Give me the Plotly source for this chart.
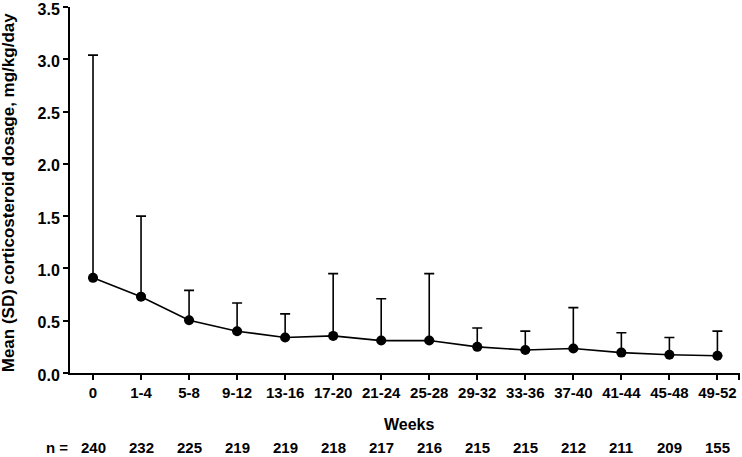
import plotly.graph_objects as go

categories = ["0", "1-4", "5-8", "9-12", "13-16", "17-20", "21-24", "25-28",
              "29-32", "33-36", "37-40", "41-44", "45-48", "49-52"]
mean_dose = [0.91, 0.73, 0.505, 0.40, 0.34, 0.355, 0.31, 0.31,
             0.25, 0.22, 0.235, 0.195, 0.175, 0.165]
sd_dose = [2.13, 0.77, 0.285, 0.27, 0.225, 0.595, 0.40, 0.64,
           0.18, 0.18, 0.39, 0.19, 0.165, 0.235]
n_counts = [240, 232, 225, 219, 219, 218, 217, 216, 215, 215, 212, 211, 209, 155]
y_ticks = [0, 0.5, 1.0, 1.5, 2.0, 2.5, 3.0, 3.5]

xpos = list(range(len(categories)))
FONT = "Liberation Sans, Arial, sans-serif"

fig = go.Figure()
fig.add_trace(go.Scatter(
    x=xpos, y=mean_dose, mode="lines+markers",
    line=dict(color="black", width=1.6),
    marker=dict(color="black", size=10, symbol="circle"),
    error_y=dict(type="data", array=sd_dose, arrayminus=[0] * len(sd_dose),
                 symmetric=False, color="black", thickness=1.6, width=5),
    showlegend=False, cliponaxis=False,
))

annotations = [
    dict(text="<b>Mean (SD) corticosteroid dosage, mg/kg/day</b>", textangle=-90,
         x=-0.0915, y=0.493, xref="paper", yref="paper", xanchor="center", yanchor="middle",
         showarrow=False, font=dict(family=FONT, size=17, color="black")),
    dict(text="<b>Weeks</b>", x=0.507, y=-0.142, xref="paper", yref="paper",
         xanchor="center", yanchor="middle",
         showarrow=False, font=dict(family=FONT, size=16, color="black")),
    dict(text="<b>n =</b>", x=-0.019, y=-0.204, xref="paper", yref="paper",
         xanchor="center", yanchor="middle",
         showarrow=False, font=dict(family=FONT, size=15, color="black")),
]
for xp, n in zip(xpos, n_counts):
    annotations.append(dict(text=f"<b>{n}</b>", x=xp, y=-0.204, xref="x", yref="paper",
                            xanchor="center", yanchor="middle",
                            showarrow=False, font=dict(family=FONT, size=15, color="black")))

fig.update_layout(
    width=742, height=457,
    margin=dict(l=70, r=2, t=7, b=84),
    paper_bgcolor="white", plot_bgcolor="white",
    font=dict(family=FONT, color="black"),
    annotations=annotations,
    xaxis=dict(
        range=[-0.479, 13.47], automargin=False,
        tickvals=xpos + [13.45], ticktext=[f"<b>{c}</b>" for c in categories] + [""],
        ticks="outside", ticklen=5, tickwidth=1.5, tickcolor="black",
        showline=True, linecolor="black", linewidth=2,
        showgrid=False, zeroline=False, ticklabeloverflow="allow",
        tickfont=dict(family=FONT, size=15, color="black"),
    ),
    yaxis=dict(
        range=[0, 3.5], automargin=False,
        tickvals=y_ticks, ticktext=["<b>%.1f</b>" % v for v in y_ticks],
        ticks="outside", ticklen=5, tickwidth=1.5, tickcolor="black",
        showline=True, linecolor="black", linewidth=2,
        showgrid=False, zeroline=False, ticklabeloverflow="allow",
        ticklabelshift=2,
        tickfont=dict(family=FONT, size=16, color="black"),
    ),
)

fig.write_html("out.html", config={"displayModeBar": False},
               post_script="document.body.style.margin='0';document.body.style.overflow='hidden';")
